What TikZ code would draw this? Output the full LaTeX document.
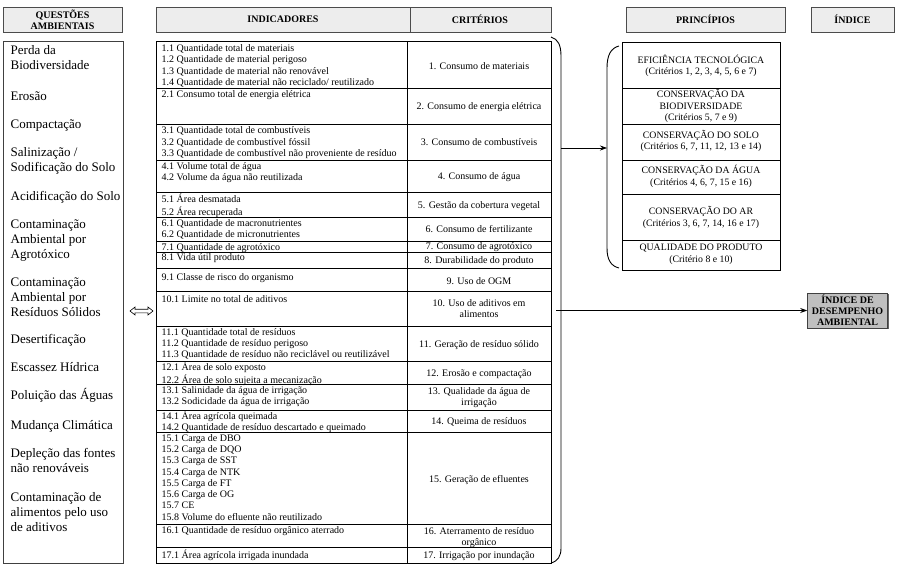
\documentclass[tikz,border=0pt]{standalone}
\usepackage{fontspec}
\setmainfont{Liberation Serif}
\usetikzlibrary{arrows.meta,shadows}
\newcommand\tabf{\fontsize{10}{11.3}\selectfont}
\newcommand\leftf{\fontsize{13}{15}\selectfont}
\newcommand\hdrf{\fontsize{10}{11.5}\selectfont\bfseries}
\newcommand\prinf{\fontsize{9.8}{11.5}\selectfont}
\begin{document}
\begin{tikzpicture}[x=1pt,y=-1pt,
  hdrbox/.style={draw=black!70, fill=black!7, line width=0.6pt, inner sep=0pt,
    drop shadow={shadow xshift=1.3pt, shadow yshift=-1.3pt, fill=black!60, opacity=1}},
  hdrtext/.style={font=\hdrf, align=center, inner sep=0pt},
  tline/.style={draw=black, line width=0.6pt},
  boxline/.style={draw=black!75, line width=0.7pt},
  ind/.style={anchor=north west, inner sep=0pt, align=left, font=\tabf},
  crit/.style={anchor=base, inner sep=0pt, font=\tabf},
  critm/.style={anchor=north, inner sep=0pt, align=center, font=\tabf},
  prin/.style={anchor=center, inner sep=0pt, align=center, font=\prinf},
  quest/.style={anchor=north west, inner sep=0pt, align=left, font=\leftf},
  idxbox/.style={draw=black!75, fill=black!25, line width=0.6pt, inner sep=0pt,
    minimum width=80pt, minimum height=35pt, align=center,
    font=\fontsize{10}{11}\selectfont\bfseries,
    drop shadow={shadow xshift=1.3pt, shadow yshift=-1.3pt, fill=black!60, opacity=1}},
  arr/.style={draw=black, line width=0.7pt, -{Stealth[length=7pt,width=5pt]}},
  brace/.style={draw=black, line width=0.9pt}]
\useasboundingbox (0,0) rectangle (900,566);

% ---------- headers ----------
\node[hdrbox, minimum width=119pt, minimum height=25pt] (hq) at (62.5,19.5) {};
\node[hdrtext] (hqt) at (hq.center) {QUESTÕES\\AMBIENTAIS};
\node[hdrbox, minimum width=395pt, minimum height=25pt] (hic) at (353.5,19.5) {};
\draw[draw=black!70, line width=0.6pt] (410,7) -- (410,32);
\node[hdrtext] (hit) at (283,19.5) {INDICADORES};
\node[hdrtext] (hct) at (480,19.5) {CRITÉRIOS};
\node[hdrbox, minimum width=159pt, minimum height=25pt] (hp) at (705.5,19.5) {};
\node[hdrtext] (hpt) at (hp.center) {PRINCÍPIOS};
\node[hdrbox, minimum width=83pt, minimum height=25pt] (hx) at (852.5,19.5) {};
\node[hdrtext] (hxt) at (hx.center) {ÍNDICE};

% ---------- left column ----------
\draw[boxline] (3,41) rectangle (123,563);
\node[quest] (q1) at (10.5,43.5) {\strut Perda da\\Biodiversidade};
\node[quest] (q2) at (10.5,89.5) {\strut Erosão};
\node[quest] (q3) at (10.5,117.5) {\strut Compactação};
\node[quest] (q4) at (10.5,145.5) {\strut Salinização /\\Sodificação do Solo};
\node[quest] (q5) at (10.5,189.5) {\strut Acidificação do Solo};
\node[quest] (q6) at (10.5,217.5) {\strut Contaminação\\Ambiental por\\Agrotóxico};
\node[quest] (q7) at (10.5,275.5) {\strut Contaminação\\Ambiental por\\Resíduos Sólidos};
\node[quest] (q8) at (10.5,332.5) {\strut Desertificação};
\node[quest] (q9) at (10.5,360.5) {\strut Escassez Hídrica};
\node[quest] (q10) at (10.5,388.5) {\strut Poluição das Águas};
\node[quest] (q11) at (10.5,418.5) {\strut Mudança Climática};
\node[quest] (q12) at (10.5,446.5) {\strut Depleção das fontes\\não renováveis};
\node[quest] (q13) at (10.5,490.5) {\strut Contaminação de\\alimentos pelo uso\\de aditivos};

% ---------- double arrow ----------
\draw[draw=black, line width=0.6pt, fill=white]
  (130,311) -- (135,307) -- (135,309.2) -- (148,309.2) -- (148,307) -- (153,311)
  -- (148,315) -- (148,312.8) -- (135,312.8) -- (135,315) -- cycle;

% ---------- table ----------
\draw[tline] (156,41) rectangle (551,563);
\draw[tline] (407,41) -- (407,563);
\foreach \t in {88,124,160,192,217,241,252,268,291,326,361,384,410,432,524,547}
  \draw[tline] (156,\t) -- (551,\t);

\node[ind] (i1) at (161.5,43.3) {\strut 1.1 Quantidade total de materiais\\1.2 Quantidade de material perigoso\\1.3 Quantidade de material não renovável\\1.4 Quantidade de material não reciclado/ reutilizado};
\node[ind] (i2) at (161.5,89.8) {\strut 2.1 Consumo total de energia elétrica};
\node[ind] (i3) at (161.5,125.8) {\strut 3.1 Quantidade total de combustíveis\\3.2 Quantidade de combustível fóssil\\3.3 Quantidade de combustível não proveniente de resíduo};
\node[ind] (i4) at (161.5,161) {\strut 4.1 Volume total de água\\4.2 Volume da água não reutilizada};
\node[ind] (i5) at (161.5,193.8) {\strut 5.1 Área desmatada\\5.2 Área recuperada};
\node[ind] (i6) at (161.5,218.3) {\strut 6.1 Quantidade de macronutrientes\\6.2 Quantidade de micronutrientes};
\node[ind] (i7) at (161.5,242) {\strut 7.1 Quantidade de agrotóxico};
\node[ind] (i8) at (161.5,252.8) {\strut 8.1 Vida útil produto};
\node[ind] (i9) at (161.5,272.5) {\strut 9.1 Classe de risco do organismo};
\node[ind] (i10) at (161.5,294.5) {\strut 10.1 Limite no total de aditivos};
\node[ind] (i11) at (161.5,327) {\strut 11.1 Quantidade total de resíduos\\11.2 Quantidade de resíduo perigoso\\11.3 Quantidade de resíduo não reciclável ou reutilizável};
\node[ind] (i12) at (161.5,361.6) {\strut 12.1 Área de solo exposto\\12.2 Área de solo sujeita a mecanização};
\node[ind] (i13) at (161.5,385.5) {\strut 13.1 Salinidade da água de irrigação\\13.2 Sodicidade da água de irrigação};
\node[ind] (i14) at (161.5,410.3) {\strut 14.1 Área agrícola queimada\\14.2 Quantidade de resíduo descartado e queimado};
\node[ind] (i15) at (161.5,433) {\strut 15.1 Carga de DBO\\15.2 Carga de DQO\\15.3 Carga de SST\\15.4 Carga de NTK\\15.5 Carga de FT\\15.6 Carga de OG\\15.7 CE\\15.8 Volume do efluente não reutilizado};
\node[ind] (i16) at (161.5,525.3) {\strut 16.1 Quantidade de resíduo orgânico aterrado};
\node[ind] (i17) at (161.5,549.5) {\strut 17.1 Área agrícola irrigada inundada};

\node[crit] (c1) at (479,69.5) {1. Consumo de materiais};
\node[crit] (c2) at (479,109.5) {2. Consumo de energia elétrica};
\node[crit] (c3) at (479,145.5) {3. Consumo de combustíveis};
\node[crit] (c4) at (479,179.5) {4. Consumo de água};
\node[crit] (c5) at (479,208) {5. Gestão da cobertura vegetal};
\node[crit] (c6) at (479,232) {6. Consumo de fertilizante};
\node[crit] (c7) at (479,249.3) {7. Consumo de agrotóxico};
\node[crit] (c8) at (479,263.5) {8. Durabilidade do produto};
\node[crit] (c9) at (479,284) {9. Uso de OGM};
\node[critm] (c10) at (479,298.5) {\strut 10. Uso de aditivos em\\alimentos};
\node[crit] (c11) at (479,347) {11. Geração de resíduo sólido};
\node[crit] (c12) at (479,376) {12. Erosão e compactação};
\node[critm] (c13) at (479,386.5) {\strut 13. Qualidade da água de\\irrigação};
\node[crit] (c14) at (479,424.5) {14. Queima de resíduos};
\node[crit] (c15) at (479,482) {15. Geração de efluentes};
\node[critm] (c16) at (479,526.5) {\strut 16. Aterramento de resíduo\\orgânico};
\node[crit] (c17) at (479,558.5) {17. Irrigação por inundação};

% ---------- right brace of table ----------
\draw[brace] (551,37) .. controls (558,39) and (561,45) .. (561,56) -- (561,548)
  .. controls (561,556) and (558,561) .. (551,563);

% ---------- principles ----------
\draw[brace] (619,46) .. controls (611,48) and (607,55) .. (607,68) -- (607,248)
  .. controls (607,260) and (611,266) .. (619,268);
\draw[tline] (622,42) rectangle (780,270);
\foreach \t in {88,124,160,194,240}
  \draw[tline] (622,\t) -- (780,\t);
\node[prin] (p1) at (701,66) {EFICIÊNCIA TECNOLÓGICA\\(Critérios 1, 2, 3, 4, 5, 6 e 7)};
\node[prin] (p2) at (701,106) {CONSERVAÇÃO DA\\BIODIVERSIDADE\\(Critérios 5, 7 e 9)};
\node[prin] (p3) at (701,141) {CONSERVAÇÃO DO SOLO\\(Critérios 6, 7, 11, 12, 13 e 14)};
\node[prin] (p4) at (701,176.5) {CONSERVAÇÃO DA ÁGUA\\(Critérios 4, 6, 7, 15 e 16)};
\node[prin] (p5) at (701,217.5) {CONSERVAÇÃO DO AR\\(Critérios 3, 6, 7, 14, 16 e 17)};
\node[prin] (p6) at (701,254.5) {QUALIDADE DO PRODUTO\\(Critério 8 e 10)};

% ---------- index ----------
\node[idxbox] (idx) at (847.5,310.5) {ÍNDICE DE\\DESEMPENHO\\AMBIENTAL};

% ---------- connectors ----------
\coordinate (b1) at (561,148);
\coordinate (pb) at (607,148);
\draw[arr] (b1) -- (pb);
\coordinate (bt) at (556,310.5);
\draw[arr] (bt) -- (idx.west);
\end{tikzpicture}
\end{document}
